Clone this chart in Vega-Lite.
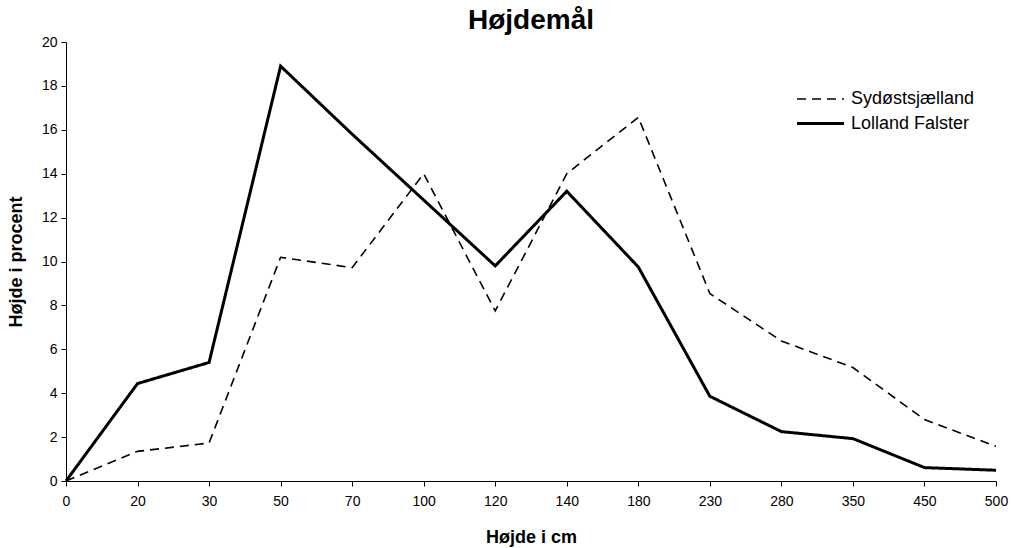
{
  "$schema": "https://vega.github.io/schema/vega-lite/v6.json",
  "width": 930,
  "height": 439,
  "autosize": {"type": "none"},
  "padding": {"left": 66, "top": 42, "right": 19, "bottom": 67},
  "background": "white",
  "title": {"text": "Højdemål", "font": "Liberation Sans", "fontSize": 28, "fontWeight": "bold", "color": "black", "offset": 0, "anchor": "middle"},
  "config": {
    "view": {"stroke": null},
    "font": "Liberation Sans",
    "axis": {"grid": false, "domainColor": "black", "tickColor": "black", "labelColor": "black", "titleColor": "black", "labelFont": "Liberation Sans", "titleFont": "Liberation Sans", "labelFontSize": 14, "titleFontSize": 18, "titleFontWeight": "bold", "domainWidth": 1, "tickWidth": 1, "tickSize": 5}
  },
  "data": {"values": [
    {"h": "0", "serie": "Sydøstsjælland", "pct": 0},
    {"h": "20", "serie": "Sydøstsjælland", "pct": 1.35},
    {"h": "30", "serie": "Sydøstsjælland", "pct": 1.73},
    {"h": "50", "serie": "Sydøstsjælland", "pct": 10.19},
    {"h": "70", "serie": "Sydøstsjælland", "pct": 9.72},
    {"h": "100", "serie": "Sydøstsjælland", "pct": 14.0},
    {"h": "120", "serie": "Sydøstsjælland", "pct": 7.75},
    {"h": "140", "serie": "Sydøstsjælland", "pct": 14.0},
    {"h": "180", "serie": "Sydøstsjælland", "pct": 16.57},
    {"h": "230", "serie": "Sydøstsjælland", "pct": 8.54},
    {"h": "280", "serie": "Sydøstsjælland", "pct": 6.38},
    {"h": "350", "serie": "Sydøstsjælland", "pct": 5.17},
    {"h": "450", "serie": "Sydøstsjælland", "pct": 2.8},
    {"h": "500", "serie": "Sydøstsjælland", "pct": 1.58},
    {"h": "0", "serie": "Lolland Falster", "pct": 0},
    {"h": "20", "serie": "Lolland Falster", "pct": 4.44},
    {"h": "30", "serie": "Lolland Falster", "pct": 5.4},
    {"h": "50", "serie": "Lolland Falster", "pct": 18.9},
    {"h": "70", "serie": "Lolland Falster", "pct": 15.8},
    {"h": "100", "serie": "Lolland Falster", "pct": 12.8},
    {"h": "120", "serie": "Lolland Falster", "pct": 9.8},
    {"h": "140", "serie": "Lolland Falster", "pct": 13.2},
    {"h": "180", "serie": "Lolland Falster", "pct": 9.75},
    {"h": "230", "serie": "Lolland Falster", "pct": 3.86},
    {"h": "280", "serie": "Lolland Falster", "pct": 2.25},
    {"h": "350", "serie": "Lolland Falster", "pct": 1.93},
    {"h": "450", "serie": "Lolland Falster", "pct": 0.61},
    {"h": "500", "serie": "Lolland Falster", "pct": 0.49}
  ]},
  "mark": {"type": "line", "color": "black", "strokeJoin": "miter"},
  "encoding": {
    "x": {"field": "h", "type": "ordinal", "sort": null, "scale": {"type": "point", "padding": 0}, "axis": {"title": "Højde i cm", "labelAngle": 0, "labelPadding": 8, "titlePadding": 20}},
    "y": {"field": "pct", "type": "quantitative", "scale": {"domain": [0, 20], "nice": false}, "axis": {"title": "Højde i procent", "values": [0,2,4,6,8,10,12,14,16,18,20], "labelPadding": 4, "titlePadding": 16}},
    "strokeDash": {"field": "serie", "type": "nominal", "sort": ["Sydøstsjælland", "Lolland Falster"], "scale": {"domain": ["Sydøstsjælland", "Lolland Falster"], "range": [[9, 6], [1, 0]]},
      "legend": {"title": null, "orient": "none", "legendX": 741, "legendY": 44, "symbolType": "M-2,0H2", "symbolSize": 552, "symbolStrokeColor": "black", "symbolFillColor": "transparent", "labelFontSize": 18, "labelFont": "Liberation Sans", "labelColor": "black", "rowPadding": 2, "labelOffset": 17}},
    "strokeWidth": {"field": "serie", "type": "nominal", "sort": ["Sydøstsjælland", "Lolland Falster"], "scale": {"domain": ["Sydøstsjælland", "Lolland Falster"], "range": [1.6, 3]}, "legend": {"title": null}}
  }
}
